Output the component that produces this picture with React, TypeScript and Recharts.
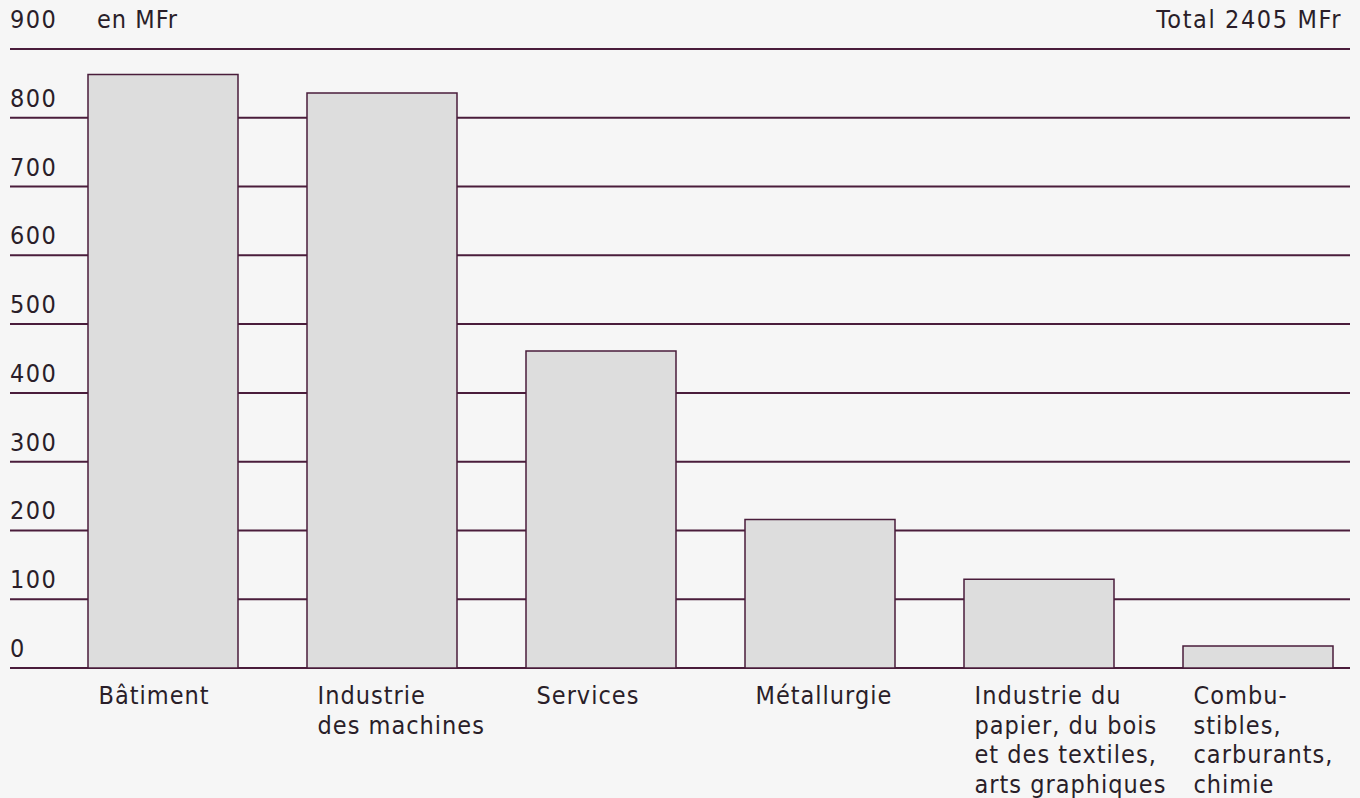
import React from "react";
import { BarChart, Bar, XAxis, YAxis, CartesianGrid, ReferenceLine } from "recharts";

const categories = [
  "Bâtiment",
  "Industrie des machines",
  "Services",
  "Métallurgie",
  "Industrie du papier, du bois et des textiles, arts graphiques",
  "Combustibles, carburants, chimie",
];
const categoryLines: string[][] = [
  ["Bâtiment"],
  ["Industrie", "des machines"],
  ["Services"],
  ["Métallurgie"],
  ["Industrie du", "papier, du bois", "et des textiles,", "arts graphiques"],
  ["Combu-", "stibles,", "carburants,", "chimie"],
];
const values = [863, 836, 461, 216, 129, 32];
const yTicks = [0, 100, 200, 300, 400, 500, 600, 700, 800, 900];
const unitLabel = "en MFr";
const totalLabel = "Total 2405 MFr";

const data = categories.map((c, i) => ({ name: c, value: values[i] }));

const FONT = "'Liberation Sans Narrow', 'DejaVu Sans Condensed', 'Arial Narrow', sans-serif";
const FS = 25;
const LS = 1;
const TEXT = "#2a1e29";
const LINE = "#4a1d3b";

const XTick = (props: any) => {
  const { x, y, index } = props;
  const lines = categoryLines[index] || [];
  return (
    <text x={x - 64} y={y + 36} textAnchor="start" fill={TEXT} fontFamily={FONT} fontSize={FS} letterSpacing={LS}>
      {lines.map((l, i) => (
        <tspan key={i} x={x - 64} dy={i === 0 ? 0 : 29.5}>
          {l}
        </tspan>
      ))}
    </text>
  );
};

const makeYLabel = (value: number) => (props: any) => {
  const vb = props.viewBox || {};
  const top = value === yTicks[yTicks.length - 1];
  return (
    <text
      x={vb.x}
      y={vb.y - (top ? 21 : 11)}
      textAnchor="start"
      fill={TEXT}
      fontFamily={FONT}
      fontSize={FS}
      letterSpacing={1.5}
    >
      {value}
    </text>
  );
};

export default function App() {
  return (
    <div style={{ position: "fixed", left: 0, top: 0, width: 1360, height: 798, background: "#f6f6f6" }}>
      <BarChart
        width={1360}
        height={798}
        data={data}
        margin={{ top: 49, right: 10, bottom: 0, left: 10 }}
        barSize={150}
      >
        <CartesianGrid horizontal vertical={false} stroke={LINE} strokeWidth={2} strokeOpacity={1} />
        <XAxis
          dataKey="name"
          height={130}
          axisLine={false}
          tickLine={false}
          tickSize={0}
          tickMargin={0}
          padding={{ left: 43, right: -17 }}
          interval={0}
          tick={<XTick />}
        />
        <YAxis width={0} domain={[0, 900]} ticks={yTicks} hide />
        {yTicks.map((v) => (
          <ReferenceLine key={v} y={v} stroke="none" ifOverflow="visible" label={makeYLabel(v)} />
        ))}
        <Bar dataKey="value" fill="#dddddd" stroke={LINE} strokeWidth={1.5} isAnimationActive={false} />
      </BarChart>
      <div
        style={{
          position: "absolute",
          left: 97,
          top: 5,
          fontFamily: FONT,
          fontSize: FS,
          letterSpacing: LS,
          color: TEXT,
          lineHeight: "30px",
        }}
      >
        {unitLabel}
      </div>
      <div
        style={{
          position: "absolute",
          right: 18,
          top: 5,
          fontFamily: FONT,
          fontSize: FS,
          letterSpacing: 1.6,
          color: TEXT,
          lineHeight: "30px",
        }}
      >
        {totalLabel}
      </div>
    </div>
  );
}
